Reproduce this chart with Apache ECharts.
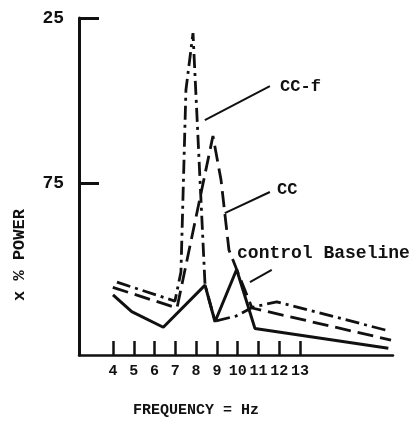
<!DOCTYPE html>
<html>
<head>
<meta charset="utf-8">
<script src="https://cdn.jsdelivr.net/npm/echarts@6/dist/echarts.min.js"></script>
<style>
html,body{margin:0;padding:0;background:#fff;}
#c{width:420px;height:433px;}
</style>
</head>
<body>
<div id="c"></div>
<script>
// ---- data (frequency in Hz, power) ----
var xTicks = [4, 5, 6, 7, 8, 9, 10, 11, 12, 13];
var yTickValues = [75, 147];
var yTickLabels = ['75', '25'];

var controlFreq  = [4.0, 4.9, 6.42, 8.43, 8.91, 9.95, 10.83, 17.25];
var controlPower = [26.2, 18.9, 12.1, 30.5, 14.5, 37.3, 11.6, 2.9];

var ccfFreq  = [4.19, 6.98, 7.27, 7.51, 7.85, 8.43, 8.91, 9.92, 10.74, 11.88, 17.19];
var ccfPower = [31.8, 23.5, 36.2, 115.6, 140.4, 30.5, 14.8, 17.0, 20.9, 23.2, 10.7];

var ccFreq  = [3.99, 7.08, 8.81, 9.2, 9.58, 10.69, 17.38];
var ccPower = [29.5, 20.5, 95.5, 76.3, 45.8, 20.5, 6.5];

var seriesNames = ['control Baseline', 'CC-f', 'CC'];

function pairs(xs, ys) { return xs.map(function (x, i) { return [x, ys[i]]; }); }

var ink = '#111';
var mono = '"Liberation Mono", "DejaVu Sans Mono", monospace';

function leader(a, b) {
  return {
    silent: true, symbol: 'none', animation: false,
    lineStyle: { color: ink, width: 2, type: 'solid' },
    label: { show: false },
    data: [[{ coord: a }, { coord: b }]]
  };
}
function tag(text, at, size) {
  return {
    silent: true, animation: false,
    symbol: 'circle', symbolSize: 0,
    label: { show: true, position: 'right', distance: 0, formatter: text,
             color: ink, fontFamily: mono, fontWeight: 'bold', fontSize: size },
    data: [{ coord: at }]
  };
}

var chart = echarts.init(document.getElementById('c'), null, { renderer: 'canvas' });
chart.setOption({
  animation: false,
  backgroundColor: '#fff',
  grid: { left: 79, right: 27, top: 18, bottom: 78, containLabel: false, outerBoundsMode: 'none' },
  xAxis: {
    type: 'value', min: 2.364, max: 17.475,
    axisLine: { show: true, lineStyle: { color: ink, width: 2.5 } },
    axisTick: { show: true, inside: true, length: 14, customValues: xTicks, lineStyle: { color: ink, width: 2.5 } },
    axisLabel: { customValues: xTicks, margin: 9, color: ink, fontFamily: mono, fontWeight: 'bold', fontSize: 15 },
    splitLine: { show: false }
  },
  yAxis: {
    type: 'value', min: 0, max: 147,
    axisLine: { show: true, lineStyle: { color: ink, width: 3 } },
    axisTick: { show: true, inside: true, length: 20, customValues: yTickValues, lineStyle: { color: ink, width: 3 } },
    axisLabel: {
      customValues: yTickValues, margin: 15, color: ink, fontFamily: mono, fontWeight: 'bold', fontSize: 18,
      formatter: function (v) { var i = yTickValues.indexOf(v); return i >= 0 ? yTickLabels[i] : ''; }
    },
    splitLine: { show: false }
  },
  graphic: [
    { type: 'text', left: 133, top: 403,
      style: { text: 'FREQUENCY = Hz', fill: ink, font: 'bold 15px ' + mono } },
    { type: 'text', x: 20, y: 255, rotation: Math.PI / 2,
      style: { text: 'x % POWER', fill: ink, font: 'bold 17px ' + mono, align: 'center', verticalAlign: 'middle' } }
  ],
  series: [
    {
      name: seriesNames[0], type: 'line', data: pairs(controlFreq, controlPower),
      showSymbol: false, symbol: 'none',
      lineStyle: { color: ink, width: 3, type: 'solid' },
      markLine: leader([10.59, 31.8], [11.64, 37.1]),
      markPoint: tag('control Baseline', [9.97, 44.5], 18)
    },
    {
      name: seriesNames[1], type: 'line', data: pairs(ccfFreq, ccfPower),
      showSymbol: false, symbol: 'none',
      lineStyle: { color: ink, width: 2.8, type: [14, 5, 3, 5] },
      markLine: leader([8.42, 102.5], [11.55, 117.3]),
      markPoint: tag('CC-f', [12.04, 116.9], 17)
    },
    {
      name: seriesNames[2], type: 'line', data: pairs(ccFreq, ccPower),
      showSymbol: false, symbol: 'none',
      lineStyle: { color: ink, width: 2.8, type: [16, 7] },
      markLine: leader([9.38, 61.9], [11.55, 71.1]),
      markPoint: tag('CC', [11.89, 72], 17)
    }
  ]
});
</script>
</body>
</html>
